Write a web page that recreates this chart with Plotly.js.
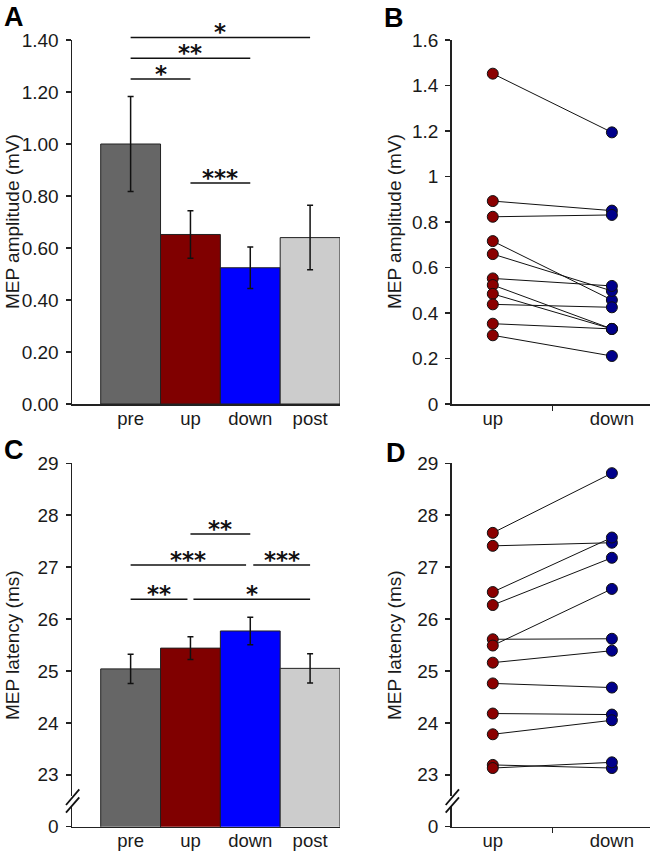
<!DOCTYPE html>
<html>
<head>
<meta charset="utf-8">
<script src="https://cdn.plot.ly/plotly-3.0.1.min.js"></script>
<style>
  html, body { margin: 0; padding: 0; background: #fff; }
  #chart { width: 654px; height: 853px; }
</style>
</head>
<body>
<div id="chart"></div>
<script>
// ---------- data ----------
const categories = ['pre', 'up', 'down', 'post'];
const barColors = ['#666666', '#800000', '#0000ff', '#cccccc'];

const ampMean = [1.00, 0.652, 0.524, 0.640];
const ampSE   = [0.183, 0.091, 0.080, 0.124];

const latMean = [25.04, 25.44, 25.77, 25.05];
const latSE   = [0.283, 0.218, 0.265, 0.280];

const pairLabels = ['up', 'down'];
const ampUp   = [1.452, 0.892, 0.823, 0.716, 0.659, 0.552, 0.523, 0.484, 0.438, 0.353, 0.302];
const ampDown = [1.194, 0.850, 0.831, 0.457, 0.497, 0.519, 0.330, 0.330, 0.425, 0.330, 0.211];

const latUp   = [27.66, 27.41, 26.52, 26.27, 25.61, 25.49, 25.16, 24.76, 24.18, 23.78, 23.19, 23.13];
const latDown = [28.81, 27.47, 27.57, 27.18, 25.62, 26.58, 25.39, 24.68, 24.16, 24.05, 23.13, 23.24];

const ampTicks = [0, 0.2, 0.4, 0.6, 0.8, 1.0, 1.2, 1.4];
const ampPairTicks = [0, 0.2, 0.4, 0.6, 0.8, 1.0, 1.2, 1.4, 1.6];
const latTicks = [22, 23, 24, 25, 26, 27, 28, 29];
const latTickText = ['0', '23', '24', '25', '26', '27', '28', '29'];

// significance comparisons (category index from/to, bracket level, stars)
const sigA = [
  {a: 0, b: 3, y: 1.41, t: '*'},
  {a: 0, b: 2, y: 1.33, t: '**'},
  {a: 0, b: 1, y: 1.25, t: '*'},
  {a: 1, b: 2, y: 0.85, t: '***'}
];
const sigC = [
  {a: 1, b: 2, y: 27.64, t: '**'},
  {a: 0, b: 1.93, y: 27.04, t: '***'},
  {a: 2.05, b: 3, y: 27.04, t: '***'},
  {a: 0, b: 0.95, y: 26.38, t: '**'},
  {a: 1.05, b: 3, y: 26.38, t: '*'}
];

// ---------- styling ----------
const FONT = 'Liberation Sans, Arial, sans-serif';
const TXT = '#1a1a1a';
const AX = '#222222';
const W = 654, H = 853;
const px = v => v / W;
const py = v => 1 - v / H;

const idx = categories.map((c, i) => i);
const pidx = pairLabels.map((c, i) => i);

const traces = [];

function barTrace(means, ses, xa, ya) {
  return {
    type: 'bar', x: idx, y: means, width: 1,
    xaxis: xa, yaxis: ya,
    marker: {color: barColors, line: {color: AX, width: 1}},
    error_y: {type: 'data', array: ses, visible: true, color: '#111', thickness: 1.5, width: 3},
    hoverinfo: 'skip', showlegend: false
  };
}
traces.push(barTrace(ampMean, ampSE, 'x', 'y'));
traces.push(barTrace(latMean, latSE, 'x3', 'y3'));

function pairTraces(up, down, xa, ya) {
  const out = [];
  up.forEach((u, i) => {
    out.push({
      type: 'scatter', mode: 'lines', x: pidx, y: [u, down[i]],
      xaxis: xa, yaxis: ya, line: {color: '#111', width: 1},
      hoverinfo: 'skip', showlegend: false
    });
  });
  out.push({
    type: 'scatter', mode: 'markers', x: up.map(() => pidx[0]), y: up,
    xaxis: xa, yaxis: ya,
    marker: {color: '#8b0000', size: 11, line: {color: '#111', width: 1}},
    hoverinfo: 'skip', showlegend: false
  });
  out.push({
    type: 'scatter', mode: 'markers', x: down.map(() => pidx[1]), y: down,
    xaxis: xa, yaxis: ya,
    marker: {color: '#00008b', size: 11, line: {color: '#111', width: 1}},
    hoverinfo: 'skip', showlegend: false
  });
  return out;
}
traces.push(...pairTraces(ampUp, ampDown, 'x2', 'y2'));
traces.push(...pairTraces(latUp, latDown, 'x4', 'y4'));

const tickFont = {family: FONT, size: 19, color: TXT};
const xTickFont = {family: FONT, size: 18.5, color: TXT};

function xBar(domain, anchor) {
  return {
    domain: domain, anchor: anchor, range: [-0.98, 3.5],
    tickmode: 'array', tickvals: idx, ticktext: categories,
    ticks: '', showline: true, linecolor: AX, linewidth: 1.5,
    showgrid: false, zeroline: false, tickfont: xTickFont, fixedrange: true,
    ticklabelstandoff: -3
  };
}
function xPair(domain, anchor) {
  return {
    domain: domain, anchor: anchor, range: [-0.345, 1.32],
    tickmode: 'array', tickvals: pidx, ticktext: pairLabels,
    ticks: '', showline: true, linecolor: AX, linewidth: 1.5,
    minor: {tickmode: 'array', tickvals: [0.5], ticks: 'outside', ticklen: 5, tickwidth: 1.5, tickcolor: AX},
    showgrid: false, zeroline: false, tickfont: xTickFont, fixedrange: true,
    ticklabelstandoff: -3
  };
}
function yAx(domain, anchor, range, vals, text) {
  const o = {
    domain: domain, anchor: anchor, range: range,
    tickmode: 'array', tickvals: vals,
    ticks: 'outside', ticklen: 5, tickwidth: 1.5, tickcolor: AX,
    showline: true, linecolor: AX, linewidth: 1.5,
    showgrid: false, zeroline: false, tickfont: tickFont, fixedrange: true,
    ticklabelstandoff: 3
  };
  if (text) o.ticktext = text;
  return o;
}

const dXL = [px(72), px(340)];
const dXR = [px(451.7), px(650)];
const dYT = [py(404), py(40)];
const dYB = [py(826.7), py(463.3)];

const shapes = [];
const annotations = [];

// bracket levels given in axis units, placed on the paper so that they can sit above the range
function addSig(list, xr, dom, range) {
  const toPaper = v => dom[0] + (v - range[0]) / (range[1] - range[0]) * (dom[1] - dom[0]);
  list.forEach(s => {
    const yp = toPaper(s.y);
    shapes.push({type: 'line', xref: xr, yref: 'paper', x0: s.a, x1: s.b, y0: yp, y1: yp,
                 line: {color: '#111', width: 1.5}});
    annotations.push({xref: xr, yref: 'paper', x: (s.a + s.b) / 2, y: yp, text: s.t,
                      showarrow: false, yanchor: 'middle', yshift: 5,
                      font: {family: 'DejaVu Sans, sans-serif', size: 23, weight: 'bold', color: '#111'}});
  });
}
addSig(sigA, 'x', dYT, [0, 1.4]);
addSig(sigC, 'x3', dYB, [22, 29]);

function addBreak(xr, yr, xl, xrr) {
  shapes.push({type: 'line', xref: xr + ' domain', yref: yr, x0: 0, x1: 0, y0: 22.40, y1: 22.59,
               line: {color: '#ffffff', width: 4}});
  shapes.push({type: 'line', xref: xr + ' domain', yref: yr, x0: xl, x1: xrr, y0: 22.418, y1: 22.72,
               line: {color: '#111', width: 1.8}});
  shapes.push({type: 'line', xref: xr + ' domain', yref: yr, x0: xl, x1: xrr, y0: 22.27, y1: 22.566,
               line: {color: '#111', width: 1.8}});
}
addBreak('x3', 'y3', -0.0224, 0.0272);
addBreak('x4', 'y4', -0.0303, 0.0368);

function yTitle(text, x, y) {
  annotations.push({xref: 'paper', yref: 'paper', x: px(x), y: py(y), text: text,
                    textangle: -90, showarrow: false, xanchor: 'center', yanchor: 'middle',
                    font: {family: FONT, size: 19, color: TXT}});
}
yTitle('MEP amplitude (mV)', 12, 222);
yTitle('MEP amplitude (mV)', 394, 222);
yTitle('MEP latency (ms)', 12, 645);
yTitle('MEP latency (ms)', 394, 645);

function letter(t, x, y) {
  annotations.push({xref: 'paper', yref: 'paper', x: px(x), y: py(y), text: t,
                    showarrow: false, xanchor: 'center', yanchor: 'middle',
                    font: {family: FONT, size: 27, weight: 'bold', color: '#000'}});
}
letter('A', 14, 17);
letter('B', 394, 18);
letter('C', 14, 450);
letter('D', 396, 453);

const layout = {
  width: W, height: H,
  margin: {l: 0, r: 0, t: 0, b: 0},
  paper_bgcolor: '#fff', plot_bgcolor: 'rgba(0,0,0,0)',
  showlegend: false, bargap: 0,
  xaxis: xBar(dXL, 'y'),
  yaxis: Object.assign(yAx(dYT, 'x', [0, 1.4], ampTicks), {tickformat: '.2f'}),
  xaxis2: xPair(dXR, 'y2'),
  yaxis2: yAx(dYT, 'x2', [0, 1.6], ampPairTicks),
  xaxis3: xBar(dXL, 'y3'),
  yaxis3: yAx(dYB, 'x3', [22, 29], latTicks, latTickText),
  xaxis4: xPair(dXR, 'y4'),
  yaxis4: yAx(dYB, 'x4', [22, 29], latTicks, latTickText),
  shapes: shapes,
  annotations: annotations
};

Plotly.newPlot('chart', traces, layout, {staticPlot: true, displayModeBar: false});
</script>
</body>
</html>
